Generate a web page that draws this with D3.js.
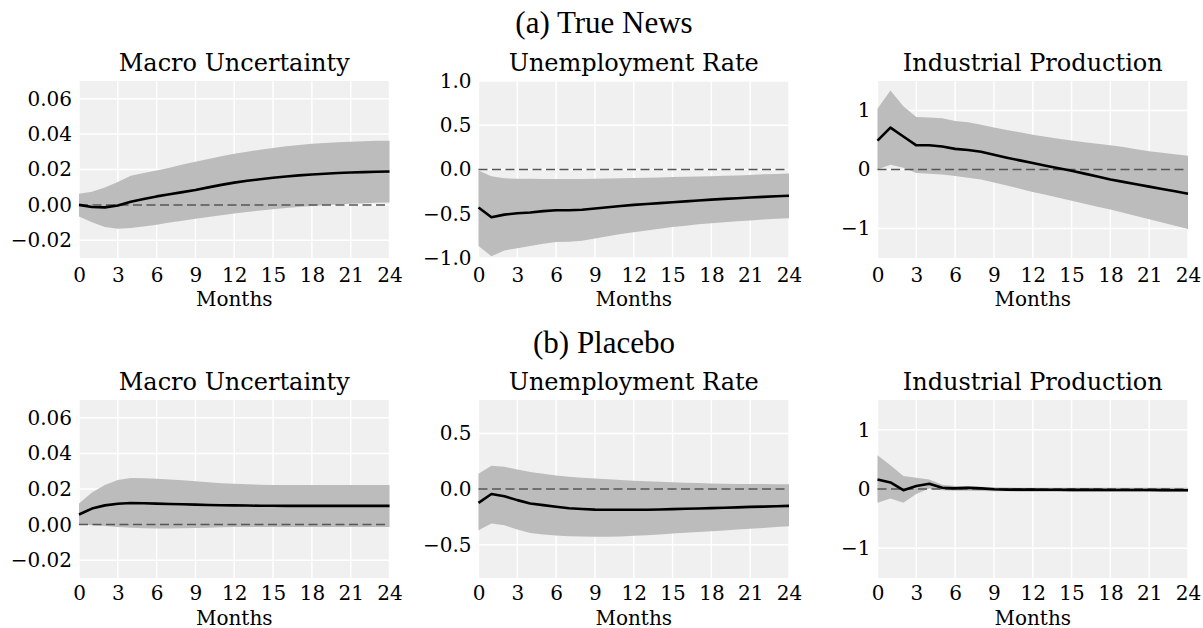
<!DOCTYPE html>
<html><head><meta charset="utf-8">
<script src="https://cdn.jsdelivr.net/npm/d3@7"></script>
<style>body{margin:0;background:#fff}svg{display:block}</style>
</head><body><svg id="c" width="1203" height="628"></svg>
<script>
const months = d3.range(0, 25);
const xTicks = [0,3,6,9,12,15,18,21,24];
const groupTitles = ["(a) True News", "(b) Placebo"];
const panelTitles = ["Macro Uncertainty", "Unemployment Rate", "Industrial Production"];

// True News
const tnMU_mean = [0.0,-0.0012,-0.0014,-0.0003,0.0018,0.0033,0.0048,0.0060,0.0072,0.0084,0.0099,0.0113,0.0126,0.0136,0.0145,0.0153,0.0160,0.0167,0.0172,0.0176,0.0180,0.0183,0.0185,0.0187,0.0189];
const tnMU_up   = [0.0063,0.0075,0.0098,0.0130,0.0165,0.0180,0.0195,0.0210,0.0228,0.0244,0.0260,0.0275,0.0289,0.0300,0.0312,0.0322,0.0331,0.0339,0.0345,0.0350,0.0354,0.0357,0.0360,0.0362,0.0363];
const tnMU_lo   = [-0.0065,-0.0098,-0.0125,-0.0135,-0.0130,-0.0122,-0.0112,-0.0100,-0.0089,-0.0078,-0.0068,-0.0058,-0.0049,-0.0040,-0.0032,-0.0025,-0.0018,-0.0012,-0.0006,-0.0002,0.0002,0.0006,0.0009,0.0012,0.0014];
const tnUR_mean = [-0.43,-0.54,-0.51,-0.495,-0.485,-0.47,-0.46,-0.46,-0.455,-0.44,-0.427,-0.413,-0.40,-0.39,-0.38,-0.37,-0.36,-0.35,-0.34,-0.332,-0.324,-0.316,-0.309,-0.303,-0.297];
const tnUR_up   = [-0.01,-0.077,-0.10,-0.105,-0.105,-0.106,-0.108,-0.108,-0.107,-0.105,-0.102,-0.099,-0.096,-0.093,-0.089,-0.085,-0.082,-0.079,-0.076,-0.072,-0.067,-0.061,-0.055,-0.05,-0.046];
const tnUR_lo   = [-0.865,-0.98,-0.915,-0.89,-0.865,-0.84,-0.82,-0.815,-0.805,-0.78,-0.755,-0.73,-0.71,-0.69,-0.67,-0.65,-0.635,-0.62,-0.607,-0.595,-0.585,-0.575,-0.565,-0.557,-0.55];
const tnIP_mean = [0.49,0.71,0.56,0.41,0.41,0.39,0.35,0.33,0.30,0.25,0.20,0.155,0.11,0.065,0.02,-0.02,-0.07,-0.12,-0.17,-0.21,-0.25,-0.29,-0.33,-0.37,-0.41];
const tnIP_up   = [1.03,1.34,1.07,0.89,0.88,0.87,0.82,0.80,0.76,0.71,0.67,0.63,0.59,0.555,0.52,0.49,0.46,0.435,0.41,0.38,0.345,0.31,0.285,0.26,0.235];
const tnIP_lo   = [0.0,0.08,0.03,-0.06,-0.07,-0.085,-0.11,-0.14,-0.17,-0.22,-0.27,-0.325,-0.38,-0.43,-0.48,-0.53,-0.58,-0.63,-0.68,-0.735,-0.79,-0.845,-0.9,-0.955,-1.01];

// Placebo
const plMU_mean = [0.0057,0.0090,0.0108,0.0117,0.0121,0.0120,0.0118,0.0116,0.0114,0.0112,0.0110,0.0109,0.0108,0.0107,0.0106,0.0106,0.0105,0.0105,0.0105,0.0105,0.0105,0.0105,0.0105,0.0105,0.0105];
const plMU_up   = [0.0118,0.0180,0.0223,0.0250,0.0262,0.0261,0.0258,0.0254,0.0249,0.0244,0.0238,0.0233,0.0229,0.0226,0.0224,0.0223,0.0222,0.0222,0.0222,0.0222,0.0222,0.0222,0.0222,0.0222,0.0222];
const plMU_lo   = [0.0,-0.0003,-0.0008,-0.0014,-0.0018,-0.0021,-0.0022,-0.0022,-0.0021,-0.0019,-0.0017,-0.0015,-0.0014,-0.0013,-0.0013,-0.0013,-0.0013,-0.0013,-0.0013,-0.0013,-0.0013,-0.0013,-0.0013,-0.0013,-0.0013];
const plUR_mean = [-0.125,-0.045,-0.065,-0.10,-0.13,-0.145,-0.16,-0.173,-0.18,-0.185,-0.187,-0.187,-0.187,-0.186,-0.184,-0.181,-0.178,-0.175,-0.172,-0.168,-0.165,-0.161,-0.158,-0.155,-0.152];
const plUR_up   = [0.136,0.21,0.20,0.175,0.152,0.137,0.122,0.11,0.102,0.095,0.088,0.081,0.075,0.07,0.065,0.06,0.056,0.053,0.05,0.048,0.046,0.045,0.044,0.043,0.042];
const plUR_lo   = [-0.37,-0.31,-0.325,-0.365,-0.395,-0.41,-0.418,-0.425,-0.428,-0.43,-0.43,-0.426,-0.42,-0.415,-0.408,-0.40,-0.393,-0.386,-0.379,-0.372,-0.365,-0.358,-0.35,-0.342,-0.335];
const plIP_mean = [0.16,0.11,-0.02,0.05,0.09,0.02,0.01,0.02,0.01,-0.005,-0.01,-0.01,-0.01,-0.012,-0.013,-0.014,-0.015,-0.015,-0.016,-0.017,-0.018,-0.018,-0.019,-0.02,-0.02];
const plIP_up   = [0.57,0.40,0.22,0.19,0.16,0.07,0.05,0.05,0.04,0.03,0.025,0.02,0.02,0.02,0.02,0.02,0.02,0.02,0.02,0.02,0.02,0.02,0.02,0.02,0.02];
const plIP_lo   = [-0.23,-0.16,-0.23,-0.085,0.01,-0.02,-0.03,-0.03,-0.035,-0.04,-0.04,-0.045,-0.045,-0.045,-0.045,-0.045,-0.045,-0.045,-0.045,-0.045,-0.045,-0.045,-0.045,-0.045,-0.045];

const muTicks = [-0.02,0,0.02,0.04,0.06];
const urTicksA = [-1.0,-0.5,0.0,0.5,1.0];
const urTicksB = [-0.5,0.0,0.5];
const ipTicks = [-1,0,1];

const panels = [
  {row:0,col:0,mean:tnMU_mean,up:tnMU_up,lo:tnMU_lo,dom:[-0.03,0.07],ticks:muTicks,fmt:d3.format(".2f")},
  {row:0,col:1,mean:tnUR_mean,up:tnUR_up,lo:tnUR_lo,dom:[-1,1],ticks:urTicksA,fmt:d3.format(".1f")},
  {row:0,col:2,mean:tnIP_mean,up:tnIP_up,lo:tnIP_lo,dom:[-1.5,1.5],ticks:ipTicks,fmt:d3.format("d")},
  {row:1,col:0,mean:plMU_mean,up:plMU_up,lo:plMU_lo,dom:[-0.03,0.07],ticks:muTicks,fmt:d3.format(".2f")},
  {row:1,col:1,mean:plUR_mean,up:plUR_up,lo:plUR_lo,dom:[-0.8,0.8],ticks:urTicksB,fmt:d3.format(".1f")},
  {row:1,col:2,mean:plIP_mean,up:plIP_up,lo:plIP_lo,dom:[-1.5,1.5],ticks:ipTicks,fmt:d3.format("d")},
];

const colX = [[79,389.5],[478.5,789],[877.5,1188]];
const rowY = [[81,258],[400,578]];
const supY = [33,353];
const monthsOffset = [48,46.5];
const tickPad = [10,8];

const svg = d3.select("#c");
const serif = "DejaVu Serif";

groupTitles.forEach((t,i)=>{
  svg.append("text").attr("x",604).attr("y",supY[i]).attr("text-anchor","middle")
    .attr("font-family","Liberation Serif").attr("font-size",31).attr("fill","#000").text(t);
});

panels.forEach(p=>{
  const [x0,x1] = colX[p.col], [y0,y1] = rowY[p.row];
  const x = d3.scaleLinear().domain([0,24]).range([x0,x1]);
  const y = d3.scaleLinear().domain(p.dom).range([y1,y0]);
  const g = svg.append("g");
  g.append("rect").attr("x",x0).attr("y",y0).attr("width",x1-x0).attr("height",y1-y0).attr("fill","#f0f0f0");
  g.selectAll(".vg").data(xTicks).join("line").attr("x1",d=>x(d)).attr("x2",d=>x(d)).attr("y1",y0).attr("y2",y1)
    .attr("stroke","#fff").attr("stroke-width",1.5);
  g.selectAll(".hg").data(p.ticks).join("line").attr("x1",x0).attr("x2",x1).attr("y1",d=>y(d)).attr("y2",d=>y(d))
    .attr("stroke","#fff").attr("stroke-width",1.5);
  const area = d3.area().x(d=>x(d)).y0(d=>y(p.lo[d])).y1(d=>y(p.up[d]));
  g.append("path").datum(months).attr("d",area).attr("fill","#bcbcbc");
  g.append("line").attr("x1",x(0)).attr("x2",x(24)).attr("y1",y(0)).attr("y2",y(0))
    .attr("stroke","#555").attr("stroke-width",1.5).attr("stroke-dasharray","9,4.5");
  const line = d3.line().x(d=>x(d)).y(d=>y(p.mean[d]));
  g.append("path").datum(months).attr("d",line).attr("fill","none").attr("stroke","#000").attr("stroke-width",2.6)
    .attr("stroke-linejoin","round");
  const ax = g.append("g").attr("transform",`translate(0,${y1})`)
    .call(d3.axisBottom(x).tickValues(xTicks).tickSize(0).tickPadding(tickPad[p.row]).tickFormat(d3.format("d")));
  ax.select(".domain").remove();
  ax.selectAll("text").attr("font-family",serif).attr("font-size",20).attr("fill","#000");
  const ay = g.append("g").attr("transform",`translate(${x0},0)`)
    .call(d3.axisLeft(y).tickValues(p.ticks).tickSize(0).tickPadding(7).tickFormat(d=>p.fmt(d).replace("-","\u2212")));
  ay.select(".domain").remove();
  ay.selectAll("text").attr("font-family",serif).attr("font-size",20).attr("fill","#000");
  g.append("text").attr("x",(x0+x1)/2).attr("y",y0-10).attr("text-anchor","middle")
    .attr("font-family",serif).attr("font-size",24).attr("fill","#000").text(panelTitles[p.col]);
  g.append("text").attr("x",(x0+x1)/2).attr("y",y1+monthsOffset[p.row]).attr("text-anchor","middle")
    .attr("font-family",serif).attr("font-size",20).attr("fill","#000").text("Months");
});
</script></body></html>
